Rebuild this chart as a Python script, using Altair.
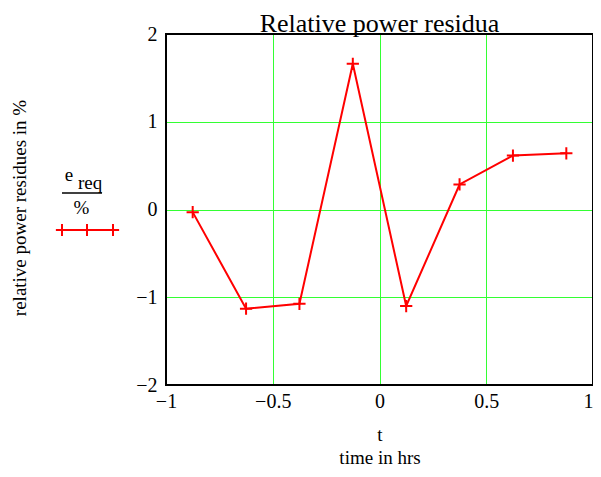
import altair as alt
import pandas as pd

t_vals = [-0.875, -0.625, -0.375, -0.125, 0.125, 0.375, 0.625, 0.875]
e_vals = [-0.03, -1.13, -1.075, 1.66, -1.10, 0.285, 0.615, 0.64]
x_ticks = [-1, -0.5, 0, 0.5, 1]
y_ticks = [-2, -1, 0, 1, 2]

df = pd.DataFrame({"t": t_vals, "e": e_vals})
one = pd.DataFrame({"k": [0]})

W, H = 427, 351
FONT = "Liberation Serif"
RED = "#ff0000"
GRID = "#33ff33"
CROSS = "M-1,0L1,0M0,-1L0,1"

x = alt.X("t:Q", scale=alt.Scale(domain=[-1, 1], nice=False, zero=False),
          axis=alt.Axis(values=x_ticks, title=None, grid=True, ticks=False, domain=False,
                        labelFont=FONT, labelFontSize=20, labelColor="black", labelPadding=6,
                        labelAlign={"condition": {"test": "datum.value == 1", "value": "right"},
                                    "value": "center"},
                        format="~g", gridColor=GRID, gridOpacity=1, labelFlush=False))
y = alt.Y("e:Q", scale=alt.Scale(domain=[-2, 2], nice=False, zero=False),
          axis=alt.Axis(values=y_ticks, title=None, grid=True, ticks=False, domain=False,
                        labelFont=FONT, labelFontSize=20, labelColor="black", labelPadding=9,
                        format="~g", gridColor=GRID, gridOpacity=1, labelFlush=False))

line = alt.Chart(df).mark_line(color=RED, strokeWidth=2).encode(x=x, y=y)
pts = alt.Chart(df).mark_point(shape=CROSS, size=150, filled=False, color=RED,
                               strokeWidth=2, opacity=1).encode(x=x, y=y)

border = alt.Chart(one).mark_rect(filled=False, stroke="black", strokeWidth=2).encode(
    x=alt.value(0), x2=alt.value(W), y=alt.value(0), y2=alt.value(H))

def txt(s, px, py, size=19, angle=0, baseline="middle"):
    kw = dict(text=s, font=FONT, fontSize=size, color="black", align="center", baseline=baseline)
    if angle:
        kw["angle"] = angle
    return alt.Chart(one).mark_text(**kw).encode(x=alt.value(px), y=alt.value(py))

title = txt("Relative power residua", 213.5, -2, size=26, baseline="alphabetic")
ytitle = txt("relative power residues in %", -146, 174, size=19, angle=270)
xt1 = txt("t", 214, 401)
xt2 = txt("time in hrs", 214, 424)
leg_e = txt("e", -97, 141)
leg_req = txt("req", -76, 149)
leg_pct = txt("%", -84.5, 174)
frac = alt.Chart(one).mark_rule(color="black", strokeWidth=1.5).encode(
    x=alt.value(-104), x2=alt.value(-64), y=alt.value(159))
leg_line = alt.Chart(one).mark_rule(color=RED, strokeWidth=2).encode(
    x=alt.value(-109), x2=alt.value(-48), y=alt.value(196))
leg_pts = [alt.Chart(one).mark_point(shape=CROSS, size=150, filled=False, color=RED,
                                     strokeWidth=2, opacity=1).encode(x=alt.value(px), y=alt.value(196))
           for px in (-104, -79, -53)]

chart = alt.layer(line, pts, border, title, ytitle, xt1, xt2, leg_e, leg_req, leg_pct, frac,
                  leg_line, *leg_pts).properties(
    width=W, height=H,
    autosize=alt.AutoSizeParams(type="none"),
    padding={"left": 158, "top": 26, "right": 0, "bottom": 84},
    background="white",
).configure_view(stroke=None)

chart.save("out.html", embed_options={"renderer": "svg", "actions": False})
